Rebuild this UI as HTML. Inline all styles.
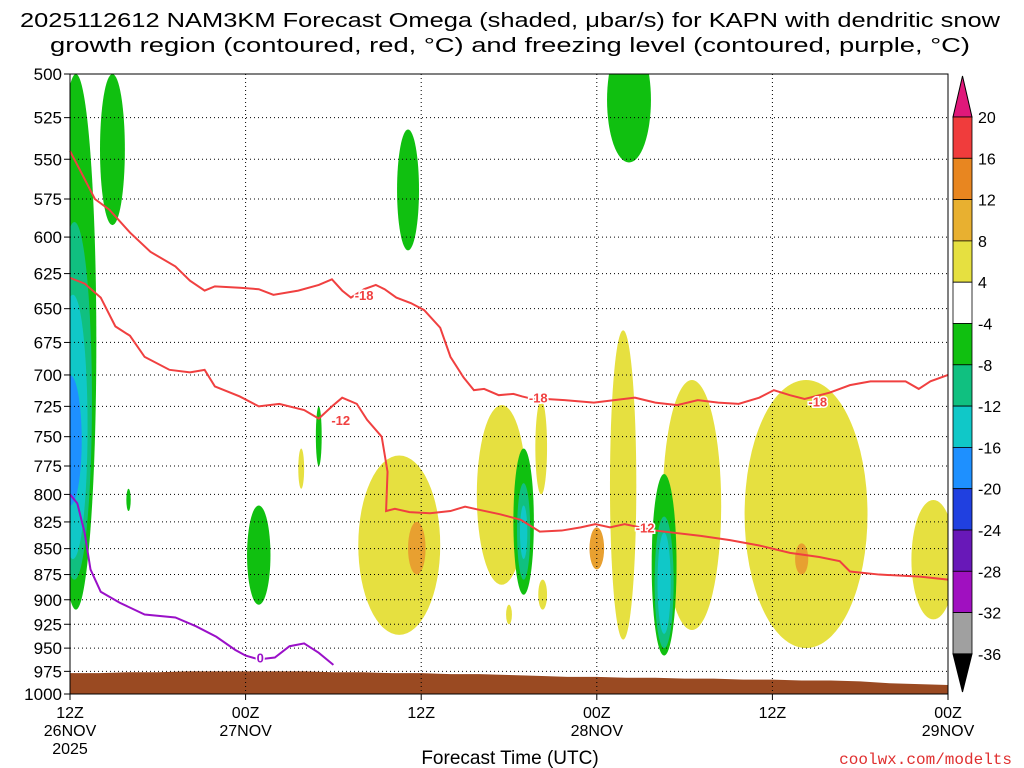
<!DOCTYPE html>
<html><head><meta charset="utf-8"><style>
body{margin:0;background:#fff;}
svg{display:block;font-family:"Liberation Sans","DejaVu Sans",sans-serif;}
</style></head><body>
<svg id="chart" width="1024" height="768" viewBox="0 0 1024 768" xmlns="http://www.w3.org/2000/svg">
<rect width="1024" height="768" fill="#fff"/>
<text x="510" y="27" font-size="20" text-anchor="middle" textLength="980" lengthAdjust="spacingAndGlyphs">2025112612 NAM3KM Forecast Omega (shaded, μbar/s) for KAPN with dendritic snow</text>
<text x="510" y="52" font-size="20" text-anchor="middle" textLength="920" lengthAdjust="spacingAndGlyphs">growth region (contoured, red, °C) and freezing level (contoured, purple, °C)</text>
<g id="shade"></g><g id="ground"></g><g id="grid"></g><g id="lines"></g><g id="axes"></g><g id="cbar"></g>
<text x="510" y="764" font-size="19" text-anchor="middle">Forecast Time (UTC)</text>
<text x="1012" y="764" font-size="16" fill="#e03030" text-anchor="end" font-family="Liberation Mono, monospace">coolwx.com/modelts</text>
</svg>
<script>
const pTicks=[500,525,550,575,600,625,650,675,700,725,750,775,800,825,850,875,900,925,950,975,1000];
const tTicks=[0,12,24,36,48,60];
const tTop=["12Z","00Z","12Z","00Z","12Z","00Z"];
const tMid=["26NOV","27NOV","","28NOV","","29NOV"];
const tBot=["2025","","","","",""];
// blobs: hour center, half-width (hours), top p, bottom p, level index (yellow first, then greens)
const blobHour=[22.5,23.7,29.5,32.2,37.8,36.0,42.5,40.5,50.3,50.0,59.0,15.8,30.0,32.3,0.4,0.3,0.2,0.0,2.9,23.1,38.2,12.9,17.0,4.0,31.0,31.0,31.0,40.6,40.6,40.6];
const blobHW=[2.8,0.6,1.7,0.4,0.9,0.5,2.0,0.4,4.2,0.45,1.5,0.2,0.2,0.3,1.4,1.2,1.0,0.8,0.85,0.75,1.5,0.8,0.2,0.15,0.7,0.45,0.25,0.85,0.65,0.45];
const blobTop=[766,825,724,720,666,830,704,840,704,845,805,760,905,880,500,590,640,700,500,532,480,810,725,795,760,790,810,782,820,835];
const blobBot=[936,875,885,800,941,870,931,880,950,875,920,795,925,910,910,880,860,810,592,609,552,905,775,815,895,880,860,958,950,935];
const blobLvl=["y","o","y","y","y","o","y","o","y","o","y","y","y","y","g","t","c","b","g","g","g","g","g","g","g","t","c","g","t","c"];
// contours (hour, pressure)
const c18h=[0,0.7,1.7,2.7,4.1,5.5,7.2,8.2,9.2,9.9,11.6,12.9,13.9,15.6,17.0,17.9,18.6,19.2,20.1,20.9,21.5,22.3,23.3,24.2,25.3,26.0,26.9,27.6,28.3,29.3,30.3,30.9,31.6,32.4,33.8,35.8,37.2,38.6,40.0,41.5,42.9,44.3,45.7,47.1,48.1,49.2,50.2,51.9,53.3,54.7,56.0,57.1,58.0,58.8,60];
const c18p=[545,557,575,582,597,610,620,630,637,634,635,636,640,637,633,629,637,642,636,633,636,642,646,651,664,686,702,712,711,716,715,717,719,719,720,722,720,718,722,724,720,722,723,718,712,716,719,714,708,705,705,705,711,705,700];
const c12h=[0,1.0,2.1,3.1,4.1,5.1,6.8,8.2,9.2,9.9,11.6,12.9,14.3,16.0,17.0,17.9,18.6,19.6,20.3,21.3,21.7,21.6,22.2,23.2,24.6,26.0,27.0,28.0,29.4,30.8,32.1,33.6,34.9,35.9,36.9,37.9,40.0,43.1,45.1,47.1,49.2,51.2,52.6,53.3,55.3,58.1,60];
const c12p=[628,632,642,663,670,686,696,698,696,709,717,725,723,728,735,725,718,723,736,750,780,815,813,816,817,815,811,814,818,823,834,833,830,827,830,827,833,838,842,847,854,858,862,872,875,877,880];
const c0h=[0,0.5,1.0,1.4,2.1,3.4,5.1,7.2,8.6,10.0,11.3,12.0,12.9,14.0,15.0,16.0,17.0,18.0];
const c0p=[800,808,835,870,892,903,915,918,927,938,952,958,962,960,948,945,955,968];
// ground top pressure vs hour
const gndH=[0,2,4,6,8,10,12,14,16,18,20,22,24,26,28,30,32,34,36,38,40,42,44,46,48,50,52,54,56,58,60];
const gndP=[977,977,976,976,975,975,975,975,975,976,976,977,977,978,978,979,980,981,981,982,982,983,983,984,984,985,985,986,988,989,990];
const cbLabels=["20","16","12","8","4","-4","-8","-12","-16","-20","-24","-28","-32","-36"];
const cbColors=["#f03c3c","#e88620","#e8b030","#e6e040","#ffffff","#10c010","#10c080","#10c8c8","#1e90ff","#2040e0","#6818b8","#a010c0","#a0a0a0"];

const X0=70,X1=948,Y0=74,Y1=694;
const xs=h=>X0+(X1-X0)*h/60;
const ys=p=>Y0+(Y1-Y0)*Math.log(p/500)/Math.log(2);
const NS="http://www.w3.org/2000/svg";
function mk(t,a,parent){const e=document.createElementNS(NS,t);for(const k in a)e.setAttribute(k,a[k]);parent.appendChild(e);return e;}
const col={g:"#10c010",t:"#10c080",c:"#10c8c8",b:"#1e90ff",y:"#e6e040",o:"#e8a030"};
const svg=document.getElementById('chart');
const defs=mk('defs',{},svg);
const cp=mk('clipPath',{id:'pc'},defs);mk('rect',{x:X0,y:Y0,width:X1-X0,height:Y1-Y0},cp);
const shade=document.getElementById('shade');shade.setAttribute('clip-path','url(#pc)');
for(let i=0;i<blobHour.length;i++){
  const y1=ys(blobTop[i]),y2=ys(blobBot[i]);
  const e=mk('ellipse',{cx:xs(blobHour[i]),cy:(y1+y2)/2,rx:(X1-X0)*blobHW[i]/60,ry:(y2-y1)/2,fill:col[blobLvl[i]]},shade);
  
  
}
const gnd=document.getElementById('ground');
let gd=`M${X0},${Y1}`;gndH.forEach((h,i)=>gd+=`L${xs(h)},${ys(gndP[i])}`);gd+=`L${X1},${Y1}Z`;
const g=mk('path',{d:gd,fill:'#9a4a22'},gnd);


const grid=document.getElementById('grid');
pTicks.forEach(p=>{if(p>500&&p<1000)mk('line',{x1:X0,x2:X1,y1:ys(p),y2:ys(p),stroke:'#000','stroke-width':1,'stroke-dasharray':'1,3'},grid);});
tTicks.forEach(h=>{if(h>0&&h<60)mk('line',{x1:xs(h),x2:xs(h),y1:Y0,y2:Y1,stroke:'#000','stroke-width':1,'stroke-dasharray':'1,3'},grid);});
const lines=document.getElementById('lines');
function poly(H,P,c,name){let d='';H.forEach((h,i)=>d+=(i?'L':'M')+xs(h)+','+ys(P[i]));const e=mk('path',{d:d,fill:'none',stroke:c,'stroke-width':2},lines);

}
poly(c18h,c18p,'#f04040','contour-minus-18');
poly(c12h,c12p,'#f04040','contour-minus-12');
poly(c0h,c0p,'#9a10c8','freezing-level-0');
function lab(h,p,t,c){const e=mk('text',{x:xs(h),y:ys(p)+5,fill:c,'font-size':13,'font-weight':'bold','text-anchor':'middle',stroke:'#fff','stroke-width':3,'paint-order':'stroke'},lines);e.textContent=t;

}
lab(20.1,640,'-18','#f04040');lab(32.0,718,'-18','#f04040');lab(51.1,721,'-18','#f04040');
lab(18.5,736,'-12','#f04040');lab(39.3,830,'-12','#f04040');lab(13.0,960,'0','#9a10c8');
const ax=document.getElementById('axes');
const fr=mk('rect',{x:X0,y:Y0,width:X1-X0,height:Y1-Y0,fill:'none',stroke:'#000','stroke-width':1},ax);


pTicks.forEach(p=>{mk('line',{x1:X0-6,x2:X0,y1:ys(p),y2:ys(p),stroke:'#000'},ax);
const t=mk('text',{x:X0-8,y:ys(p)+6,'font-size':17,'text-anchor':'end'},ax);t.textContent=p;

});
tTicks.forEach((h,i)=>{mk('line',{x1:xs(h),x2:xs(h),y1:Y1,y2:Y1+6,stroke:'#000'},ax);
[[tTop[i],718],[tMid[i],736],[tBot[i],754]].forEach(([s,y])=>{if(!s)return;const t=mk('text',{x:xs(h),y:y,'font-size':16,'text-anchor':'middle'},ax);t.textContent=s;

});});
const cb=document.getElementById('cbar');
const CX=953,CW=19,step=41.3,cTop=117;
const tri1=mk('polygon',{points:`${CX},${cTop} ${CX+CW},${cTop} ${CX+CW/2},${76}`,fill:'#e0187a',stroke:'#000'},cb);


cbColors.forEach((c,i)=>{const r=mk('rect',{x:CX,y:cTop+i*step,width:CW,height:step,fill:c,stroke:'#000','stroke-width':0.8},cb);

});
const yb=cTop+cbColors.length*step;
const tri2=mk('polygon',{points:`${CX},${yb} ${CX+CW},${yb} ${CX+CW/2},${692}`,fill:'#000',stroke:'#000'},cb);


cbLabels.forEach((s,i)=>{const t=mk('text',{x:CX+CW+6,y:cTop+i*step+6,'font-size':16},cb);t.textContent=s;

});
</script>
</body></html>
